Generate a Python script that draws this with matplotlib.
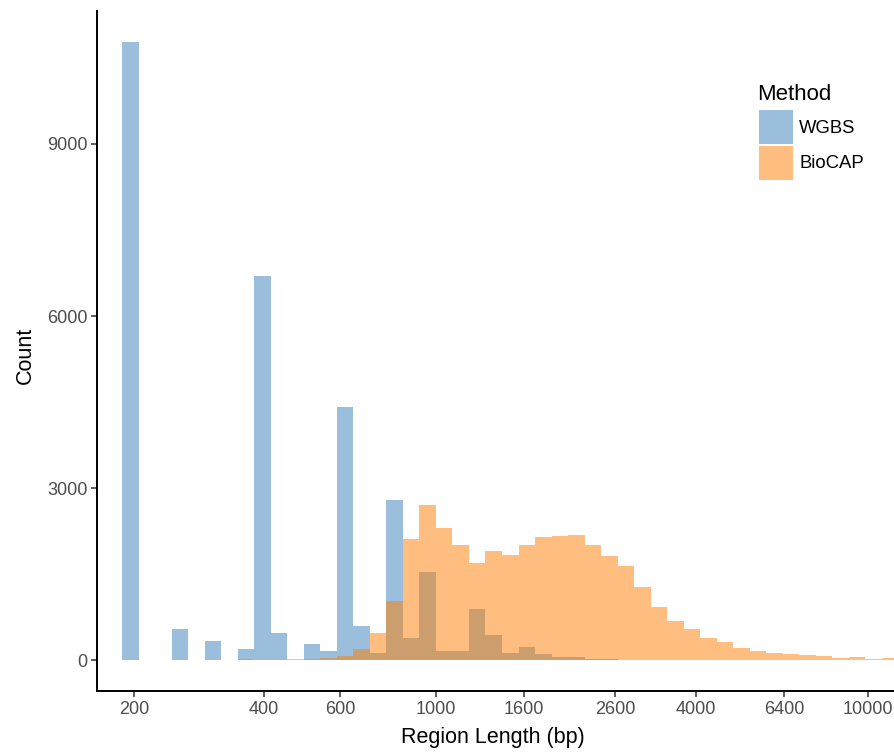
import numpy as np
import matplotlib
matplotlib.use("Agg")
import matplotlib.pyplot as plt
from matplotlib.patches import Patch

plt.rcParams["font.family"] = ["Liberation Sans", "DejaVu Sans"]

# Histogram bins: equal width on a log10 scale
bin_start_log10 = 2.27324
bin_width_log10 = 0.03826
n_bins = 47

# Counts per bin
wgbs_counts = [
    10780, 0, 0, 540, 0, 330, 0, 191, 6700, 470,
    0, 278, 157, 4420, 590, 122, 2800, 382, 1530, 156,
    156, 886, 434, 122, 226, 104, 52, 52, 25, 15,
    8, 5, 3, 2, 0, 0, 0, 0, 0, 0,
    0, 0, 0, 0, 0, 0, 0,
]
biocap_counts = [
    0, 0, 0, 0, 0, 0, 5, 17, 5, 5,
    17, 20, 35, 70, 191, 470, 1025, 2120, 2710, 2310,
    2000, 1700, 1910, 1840, 2000, 2140, 2170, 2190, 2015, 1810,
    1640, 1270, 920, 680, 540, 380, 310, 205, 156, 122,
    104, 87, 70, 35, 52, 17, 35,
]

methods = ["WGBS", "BioCAP"]
base_colors = {"WGBS": "#377EB8", "BioCAP": "#FF7F00"}
fill_alpha = 0.5

x_ticks = [200, 400, 600, 1000, 1600, 2600, 4000, 6400, 10000]
y_ticks = [0, 3000, 6000, 9000]

edges = 10 ** (bin_start_log10 + bin_width_log10 * np.arange(n_bins + 1))
lefts = edges[:-1]
widths = np.diff(edges)

W, H = 895, 752
fig = plt.figure(figsize=(W / 100, H / 100), dpi=100)
ax = fig.add_axes([97 / W, 61 / H, (W - 97) / W, 680 / H])

for name, counts in zip(methods, [wgbs_counts, biocap_counts]):
    ax.bar(lefts, counts, width=widths, align="edge",
           color=base_colors[name], alpha=fill_alpha, linewidth=0,
           label=name)

ax.set_xscale("log")
ax.set_xlim(164.2, 11571)
ymax = max(max(wgbs_counts), max(biocap_counts))
ax.set_ylim(-0.05 * ymax, 1.05 * ymax)

ax.set_xticks(x_ticks)
ax.set_xticklabels([str(t) for t in x_ticks])
ax.xaxis.set_minor_locator(matplotlib.ticker.NullLocator())
ax.set_yticks(y_ticks)
ax.set_yticklabels([str(t) for t in y_ticks])

for side in ["top", "right"]:
    ax.spines[side].set_visible(False)
for side in ["left", "bottom"]:
    ax.spines[side].set_linewidth(1.4)
    ax.spines[side].set_color("black")

ax.tick_params(axis="both", which="major", length=4, width=1.1,
               color="#333333", labelcolor="#4D4D4D", labelsize=13, pad=3)

ax.set_xlabel("Region Length (bp)", fontsize=15.5, color="black")
ax.xaxis.set_label_coords((493 - 97) / (W - 97), (691 - 738) / 680)
ax.xaxis.label.set_va("center")
ax.set_ylabel("Count", fontsize=15.5, color="black")
ax.yaxis.set_label_coords((25 - 97) / (W - 97), (691 - 355) / 680)
ax.yaxis.label.set_va("center")

# Legend: square keys with the title set above them
handles = [Patch(facecolor=base_colors[m], alpha=fill_alpha, linewidth=0, label=m)
           for m in methods]
leg = ax.legend(handles=handles, loc="upper left",
                bbox_to_anchor=(759 / W, 1 - 110 / H),
                bbox_transform=fig.transFigure, frameon=False,
                fontsize=13.3, handlelength=1.84, handleheight=2.45,
                labelspacing=0.1, handletextpad=0.33,
                borderpad=0, borderaxespad=0)
fig.text(757 / W, 1 - 100 / H, "Method", fontsize=16, color="black",
         ha="left", va="baseline")

fig.savefig("out.png", dpi=100)
